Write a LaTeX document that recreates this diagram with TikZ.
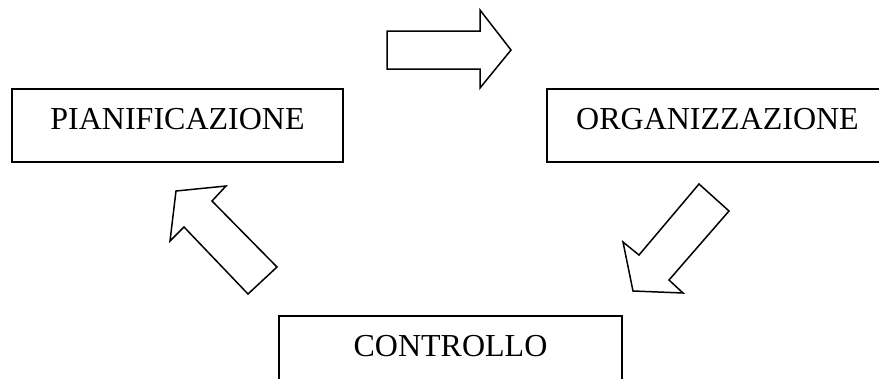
\documentclass[tikz,border=0pt]{standalone}
\usepackage{fontspec}
\setmainfont{Liberation Serif}
\begin{document}
\begin{tikzpicture}[x=1pt,y=-1pt,
  box/.style={draw, line width=1.6pt, inner sep=0pt, minimum height=73pt,
    text height=22pt, text depth=15pt, font=\fontsize{32}{36}\selectfont},
  blockarrow/.style={draw, line width=1.5pt, line join=miter, fill=white}]
  \useasboundingbox (0,0) rectangle (879,378);
  \clip (0,0) rectangle (879,378);
  % the three phases
  \node[box, minimum width=331pt] (pian) at (177.5,125.5) {PIANIFICAZIONE};
  \node[box, minimum width=341pt] (org)  at (717.5,125.5) {ORGANIZZAZIONE};
  \node[box, minimum width=343pt] (ctrl) at (450.5,352.5) {CONTROLLO};
  % block arrows of the cycle
  \draw[blockarrow] (387,31) -- (480,31) -- (480,10) -- (511,50)
    -- (480,88) -- (480,69) -- (387,69) -- cycle;
  \draw[blockarrow] (699,184) -- (729,211) -- (669,280) -- (683,293)
    -- (633,291) -- (623,242) -- (639,255) -- cycle;
  \draw[blockarrow] (277,267) -- (212,201) -- (226,186) -- (176,191)
    -- (170,241) -- (184,227) -- (248,294) -- cycle;
\end{tikzpicture}
\end{document}
